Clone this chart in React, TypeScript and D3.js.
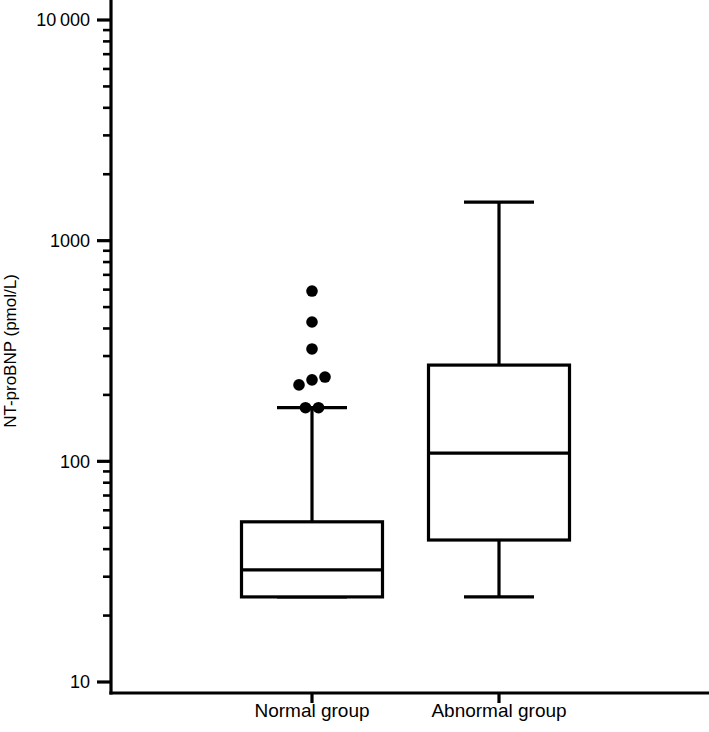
import React from "react";
import * as d3 from "d3";

const groups = ["Normal group", "Abnormal group"];
// [min whisker, Q1, median, Q3, max whisker]
const normalStats = [24.3, 24.3, 32.2, 53.2, 175];
const abnormalStats = [24.3, 44, 109, 273, 1496];
const normalOutliers = [591, 428, 323, 241, 234, 222, 175, 175];
const abnormalOutliers: number[] = [];
const majorTicks = [10, 100, 1000, 10000];
const majorTickLabels = ["10", "100", "1000", "10\u2009000"];
const yLabel = "NT-proBNP (pmol/L)";

const W = 709;
const H = 732;
const axisX = 111;
const axisY = 693;

export default function App() {
  const y = d3.scaleLog().domain([10, 10000]).range([682, 20]);
  const x = d3.scalePoint<string>().domain(groups).range([312, 499]);
  const boxW = 141;
  const capW = 70;
  const sw = 3.2;
  const font = "'Liberation Sans', Arial, Helvetica, sans-serif";

  const minor: number[] = [];
  [10, 100, 1000].forEach((d) => {
    for (let k = 2; k <= 9; k++) minor.push(d * k);
  });

  const statsList = [normalStats, abnormalStats];
  const outList = [normalOutliers, abnormalOutliers];

  // simple beeswarm: cluster outliers whose y positions are close
  const swarm = (vals: number[], cx: number) => {
    const r = 5.5;
    const pts = vals.map((v) => ({ v, y: y(v), x: cx }));
    const sorted = [...pts].sort((a, b) => a.y - b.y);
    const clusters: typeof pts[] = [];
    sorted.forEach((p) => {
      const last = clusters[clusters.length - 1];
      if (last && Math.abs(last[last.length - 1].y - p.y) < 2 * r) last.push(p);
      else clusters.push([p]);
    });
    const step = 2 * r + 2;
    clusters.forEach((c) => {
      const sortedC = [...c].sort((a, b) => b.y - a.y);
      const n = sortedC.length;
      sortedC.forEach((p, i) => {
        p.x = cx + (i - (n - 1) / 2) * step;
      });
    });
    return pts;
  };

  return (
    <svg
      width={W}
      height={H}
      style={{ position: "absolute", left: 0, top: 0, background: "#fff" }}
    >
      {/* boxes */}
      {groups.map((g, i) => {
        const s = statsList[i];
        const cx = x(g)!;
        return (
          <g key={g} stroke="#000" strokeWidth={sw} fill="none">
            <line x1={cx} x2={cx} y1={y(s[3])} y2={y(s[4])} />
            <line x1={cx - capW / 2} x2={cx + capW / 2} y1={y(s[4])} y2={y(s[4])} />
            <line x1={cx} x2={cx} y1={y(s[1])} y2={y(s[0])} />
            <line x1={cx - capW / 2} x2={cx + capW / 2} y1={y(s[0])} y2={y(s[0])} />
            <rect x={cx - boxW / 2} y={y(s[3])} width={boxW} height={y(s[1]) - y(s[3])} fill="#fff" />
            <line x1={cx - boxW / 2} x2={cx + boxW / 2} y1={y(s[2])} y2={y(s[2])} />
          </g>
        );
      })}
      {/* outliers */}
      {groups.map((g, i) =>
        swarm(outList[i], x(g)!).map((p, j) => (
          <circle key={g + j} cx={p.x} cy={p.y} r={5.8} fill="#000" />
        ))
      )}
      {/* y axis */}
      <line x1={axisX} x2={axisX} y1={0} y2={axisY + sw / 2} stroke="#000" strokeWidth={sw} />
      {majorTicks.map((t, i) => (
        <g key={t}>
          <line x1={97} x2={axisX} y1={y(t)} y2={y(t)} stroke="#000" strokeWidth={sw} />
          <text
            x={90}
            y={y(t)}
            dy="0.36em"
            textAnchor="end"
            fontFamily={font}
            fontSize={18}
            fill="#000"
          >
            {majorTickLabels[i]}
          </text>
        </g>
      ))}
      {minor.map((t) => (
        <line key={t} x1={103} x2={axisX} y1={y(t)} y2={y(t)} stroke="#000" strokeWidth={2.6} />
      ))}
      {/* x axis */}
      <line x1={axisX - sw / 2} x2={W} y1={axisY} y2={axisY} stroke="#000" strokeWidth={sw} />
      {groups.map((g) => (
        <g key={g}>
          <line x1={x(g)} x2={x(g)} y1={axisY} y2={703} stroke="#000" strokeWidth={sw} />
          <text
            x={x(g)}
            y={717}
            textAnchor="middle"
            fontFamily={font}
            fontSize={19}
            fill="#000"
          >
            {g}
          </text>
        </g>
      ))}
      <text
        transform="translate(16,351) rotate(-90)"
        textAnchor="middle"
        fontFamily={font}
        fontSize={17}
        fill="#000"
      >
        {yLabel}
      </text>
    </svg>
  );
}
